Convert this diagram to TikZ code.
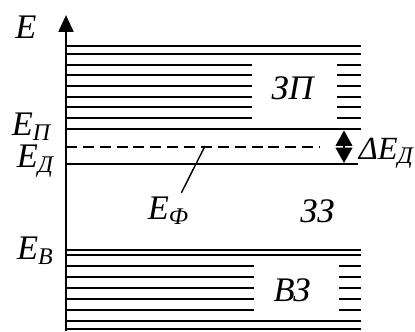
\documentclass[tikz,border=0pt]{standalone}
\usepackage{fontspec}
\setmainfont{Liberation Serif}
\usetikzlibrary{arrows.meta,positioning}
\newcommand{\lowsub}[1]{\raisebox{-0.3ex}{\fontsize{17}{17}\selectfont #1}}

\begin{document}
\begin{tikzpicture}[x=0.025cm, y=-0.025cm, every node/.style={font=\fontsize{24.5}{26}\selectfont\itshape, inner sep=0pt}]
\tikzset{band/.style={line width=1.5pt}, level/.style={line width=2.1pt}}
\useasboundingbox (0,0) rectangle (415,331);
% energy axis
\coordinate (axbot) at (66,331);
\coordinate (axtop) at (66,15);
\node (E) at (26,27) {E};
% conduction band
\foreach \y in {46,54,64.7,75.3,86,96.7,107.3,118}
  \draw[band] (66,\y) -- (361,\y);
\fill[white] (252,59) rectangle (337,123);
\node (cb) at (292.5,88) {ЗП};
\draw[level] (66,129) -- (361,129);
\node (Ec) at (31,127) {E\lowsub{П}};
% donor level and Fermi level
\draw[level] (66,164) -- (358,164);
\node (Ed) at (35,161) {E\lowsub{Д}};
\draw[band, dash pattern=on 7.8pt off 4.2pt] (66,147) -- (320,147);
\coordinate (fpt) at (205,146);
\node (EF) at (168,211) {E\lowsub{Ф}};
\draw[line width=1pt] ([xshift=-5pt,yshift=3pt]EF.north east) -- (fpt);
% gap
\coordinate (dtop) at (344,130.5);
\coordinate (dbot) at (344,163);
\draw[line width=1pt, {Triangle[length=11pt,width=12pt]}-{Triangle[length=11pt,width=12pt]}] (dtop) -- (dbot);
\node[anchor=east, font=\fontsize{23}{24}\selectfont\itshape] (dE) at (413,153) {ΔE\lowsub{Д}};
\node (gap) at (317.5,211) {ЗЗ};
% valence band
\draw[level] (66,250) -- (361,250);
\foreach \y in {255,266,277,288,299,310,321,329}
  \draw[band] (66,\y) -- (361,\y);
\fill[white] (254,259) rectangle (339,320);
\node (vb) at (292,290) {ВЗ};
\node (Ev) at (35,251) {E\lowsub{В}};
\draw[line width=1.8pt, -{Triangle[length=12pt,width=10.5pt]}] (axbot) -- (axtop);
\end{tikzpicture}
\end{document}
